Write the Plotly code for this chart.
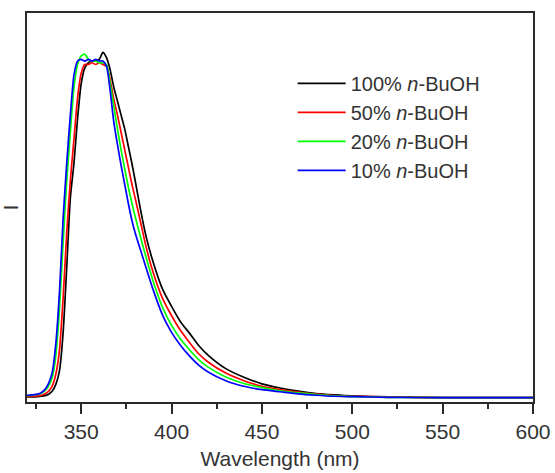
import plotly.graph_objects as go

# Wavelength grid (nm)
wavelength = [320, 323, 326, 328, 330, 332, 334, 336, 338, 340, 342, 344, 346, 348,
              350, 352, 354, 356, 358, 360, 362, 364, 366, 368, 370, 372, 374, 376,
              378, 380, 383, 386, 390, 395, 400, 405, 410, 415, 420, 430, 440, 450,
              460, 470, 480, 490, 500, 520, 550, 600]

# Normalized emission intensities
i_100 = [0.003, 0.003, 0.004, 0.005, 0.007, 0.011, 0.020, 0.040, 0.080, 0.190, 0.380, 0.580, 0.680, 0.810,
         0.910, 0.955, 0.970, 0.975, 0.975, 0.980, 1.000, 0.985, 0.950, 0.900, 0.860, 0.820, 0.780, 0.730,
         0.680, 0.625, 0.540, 0.465, 0.390, 0.315, 0.265, 0.220, 0.187, 0.152, 0.125, 0.085, 0.060, 0.041,
         0.029, 0.020, 0.013, 0.009, 0.006, 0.003, 0.001, 0.001]
i_50 = [0.004, 0.005, 0.006, 0.008, 0.012, 0.020, 0.035, 0.070, 0.140, 0.290, 0.480, 0.630, 0.750, 0.870,
        0.940, 0.965, 0.965, 0.970, 0.965, 0.970, 0.965, 0.960, 0.920, 0.865, 0.820, 0.770, 0.720, 0.670,
        0.620, 0.575, 0.505, 0.435, 0.360, 0.288, 0.238, 0.195, 0.160, 0.128, 0.105, 0.072, 0.050, 0.034,
        0.024, 0.017, 0.011, 0.007, 0.005, 0.003, 0.001, 0.001]
i_20 = [0.007, 0.008, 0.010, 0.014, 0.021, 0.035, 0.060, 0.125, 0.260, 0.450, 0.630, 0.770, 0.900, 0.965,
        0.990, 0.995, 0.980, 0.975, 0.975, 0.970, 0.970, 0.965, 0.910, 0.845, 0.780, 0.720, 0.665, 0.612,
        0.565, 0.522, 0.462, 0.405, 0.335, 0.262, 0.210, 0.170, 0.139, 0.111, 0.090, 0.061, 0.042, 0.030,
        0.021, 0.015, 0.010, 0.006, 0.004, 0.002, 0.001, 0.001]
i_10 = [0.008, 0.009, 0.011, 0.016, 0.025, 0.043, 0.075, 0.160, 0.310, 0.520, 0.680, 0.820, 0.935, 0.975,
        0.980, 0.975, 0.980, 0.975, 0.980, 0.975, 0.975, 0.960, 0.890, 0.800, 0.735, 0.675, 0.620, 0.565,
        0.515, 0.475, 0.425, 0.375, 0.310, 0.240, 0.190, 0.152, 0.121, 0.095, 0.076, 0.050, 0.034, 0.024,
        0.018, 0.012, 0.008, 0.005, 0.004, 0.002, 0.001, 0.001]

series_names = ["100% <i>n</i>-BuOH", "50% <i>n</i>-BuOH", "20% <i>n</i>-BuOH", "10% <i>n</i>-BuOH"]
series_values = [i_100, i_50, i_20, i_10]
series_colors = ["#000000", "#ff0000", "#00ff00", "#0000ff"]

x_ticks = [350, 400, 450, 500, 550, 600]

FONT = "Arial, 'Liberation Sans', sans-serif"

fig = go.Figure()
for name, vals, col in zip(series_names, series_values, series_colors):
    fig.add_trace(go.Scatter(x=wavelength, y=vals, mode="lines", name=name,
                             line=dict(color=col, width=1.7, shape="spline", smoothing=0.6)))

axis_col = "#2a2a2a"
fig.update_layout(
    width=555, height=473,
    margin=dict(l=27, r=22, t=13, b=71, autoexpand=False),
    paper_bgcolor="white", plot_bgcolor="white",
    font=dict(family=FONT, size=21, color="#333333"),
    showlegend=True,
    legend=dict(x=0.525, y=0.869, xanchor="left", yanchor="top",
                bgcolor="rgba(0,0,0,0)", font=dict(size=20, color="#333333"),
                itemwidth=48, tracegroupgap=0),
    xaxis=dict(range=[320, 600], tickvals=x_ticks, ticks="outside", ticklen=10,
               tickwidth=1.5, tickcolor=axis_col, showline=True, linecolor=axis_col,
               linewidth=1.6, mirror=True, showgrid=False, zeroline=False,
               automargin=False,
               tickfont=dict(size=21, color="#333333"),
               minor=dict(dtick=25, tick0=0, ticks="outside", ticklen=5,
                          tickwidth=1.5, tickcolor=axis_col, showgrid=False),
               title=dict(text="Wavelength (nm)", font=dict(size=21, color="#333333"), standoff=9)),
    yaxis=dict(range=[-0.0116, 1.114], showticklabels=False, ticks="", showline=True,
               linecolor=axis_col, linewidth=1.6, mirror=True, showgrid=False, zeroline=False,
               automargin=False,
               title=dict(text="I", font=dict(size=20, color="#333333"), standoff=4)),
)

fig.write_html("out.html")
